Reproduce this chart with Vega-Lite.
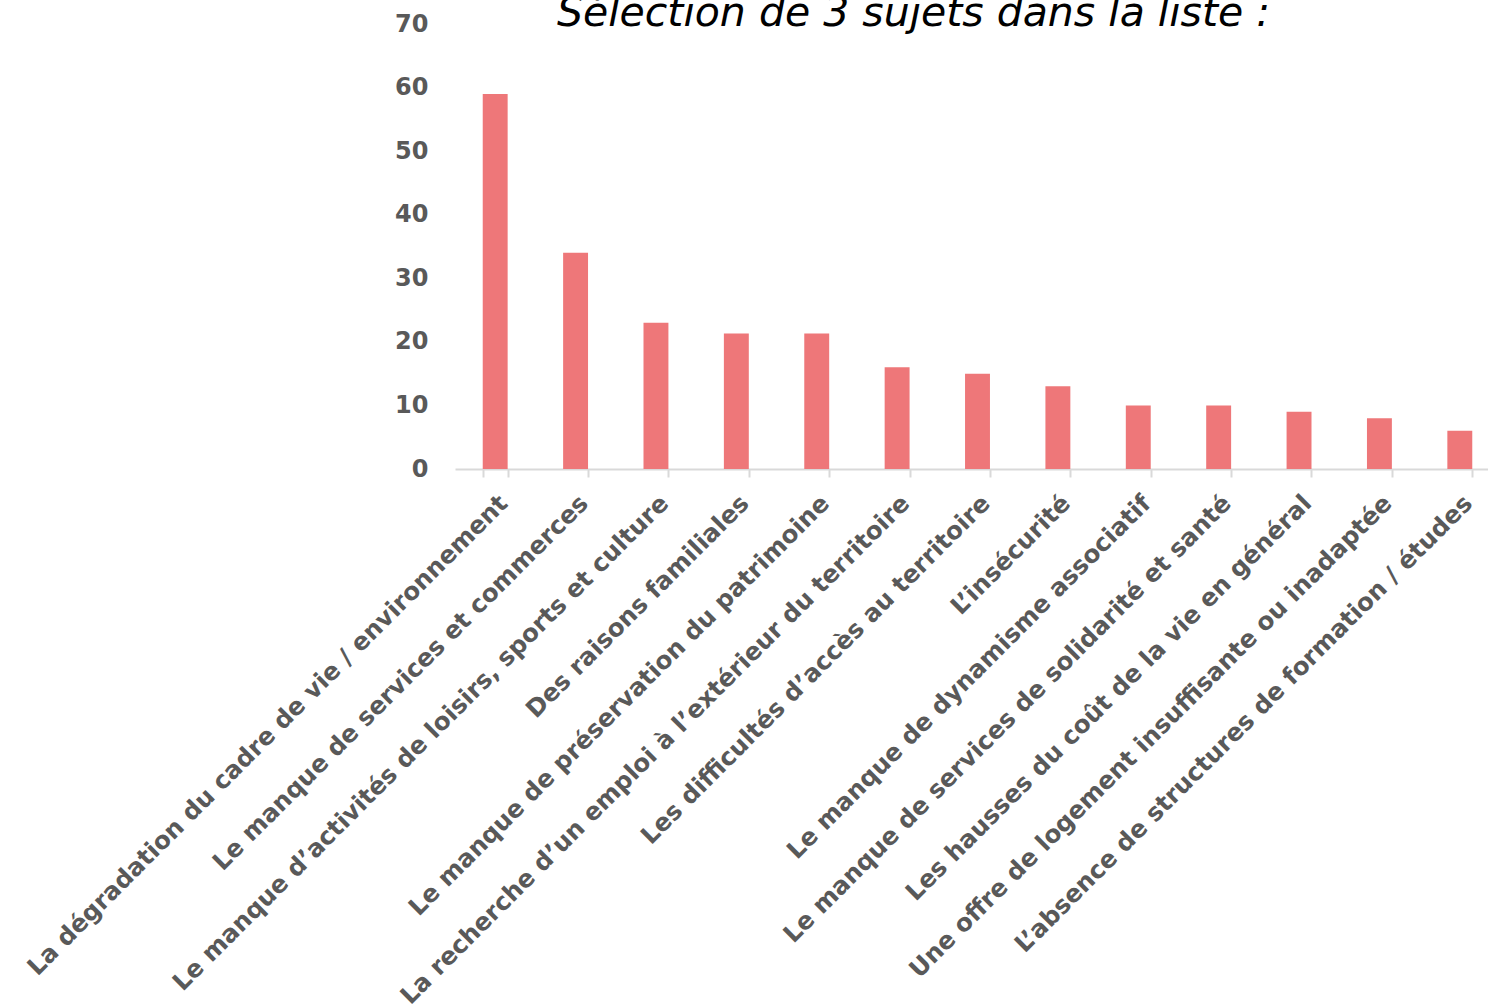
{
  "$schema": "https://vega.github.io/schema/vega-lite/v6.json",
  "autosize": {"type": "none"},
  "padding": {"left": 455, "top": 24, "right": 0, "bottom": 536},
  "width": 1045,
  "height": 445,
  "background": "white",
  "title": {
    "text": "Sélection de 3 sujets dans la liste :",
    "font": "DejaVu Sans",
    "fontSize": 41,
    "fontStyle": "italic",
    "fontWeight": 200,
    "color": "#000000",
    "anchor": "middle",
    "dx": -64,
    "offset": 0,
    "dy": 23
  },
  "config": {"view": {"stroke": null}},
  "data": {
    "values": [
      {"sujet": "La dégradation du cadre de vie / environnement", "valeur": 59},
      {"sujet": "Le manque de services et commerces", "valeur": 34},
      {"sujet": "Le manque d’activités de loisirs, sports et culture", "valeur": 23},
      {"sujet": "Des raisons familiales", "valeur": 21.3},
      {"sujet": "Le manque de préservation du patrimoine", "valeur": 21.3},
      {"sujet": "La recherche d’un emploi à l’extérieur du territoire", "valeur": 16},
      {"sujet": "Les difficultés d’accès au territoire", "valeur": 15},
      {"sujet": "L’insécurité", "valeur": 13},
      {"sujet": "Le manque de dynamisme associatif", "valeur": 10},
      {"sujet": "Le manque de services de solidarité et santé", "valeur": 10},
      {"sujet": "Les hausses du coût de la vie en général", "valeur": 9},
      {"sujet": "Une offre de logement insuffisante ou inadaptée", "valeur": 8},
      {"sujet": "L’absence de structures de formation / études", "valeur": 6}
    ]
  },
  "mark": {"type": "bar", "color": "#EE7779"},
  "encoding": {
    "x": {
      "field": "sujet",
      "type": "nominal",
      "sort": null,
      "title": null,
      "scale": {"paddingInner": 0.69, "paddingOuter": 0.345},
      "axis": {
        "labelAngle": -45,
        "labelFont": "DejaVu Sans",
        "labelFontSize": 24.5,
        "labelFontWeight": "bold",
        "labelColor": "#595959",
        "labelLimit": 1000,
        "labelPadding": 14,
        "domainColor": "#D9D9D9",
        "domainWidth": 2,
        "tickColor": "#D9D9D9",
        "tickWidth": 2,
        "tickSize": 8,
        "tickBand": "extent"
      }
    },
    "y": {
      "field": "valeur",
      "type": "quantitative",
      "title": null,
      "scale": {"domain": [0, 70], "nice": false},
      "axis": {
        "values": [0, 10, 20, 30, 40, 50, 60, 70],
        "grid": false,
        "domain": false,
        "ticks": false,
        "labelFont": "DejaVu Sans",
        "labelFontSize": 24,
        "labelFontWeight": "bold",
        "labelColor": "#595959",
        "labelPadding": 27
      }
    }
  }
}
